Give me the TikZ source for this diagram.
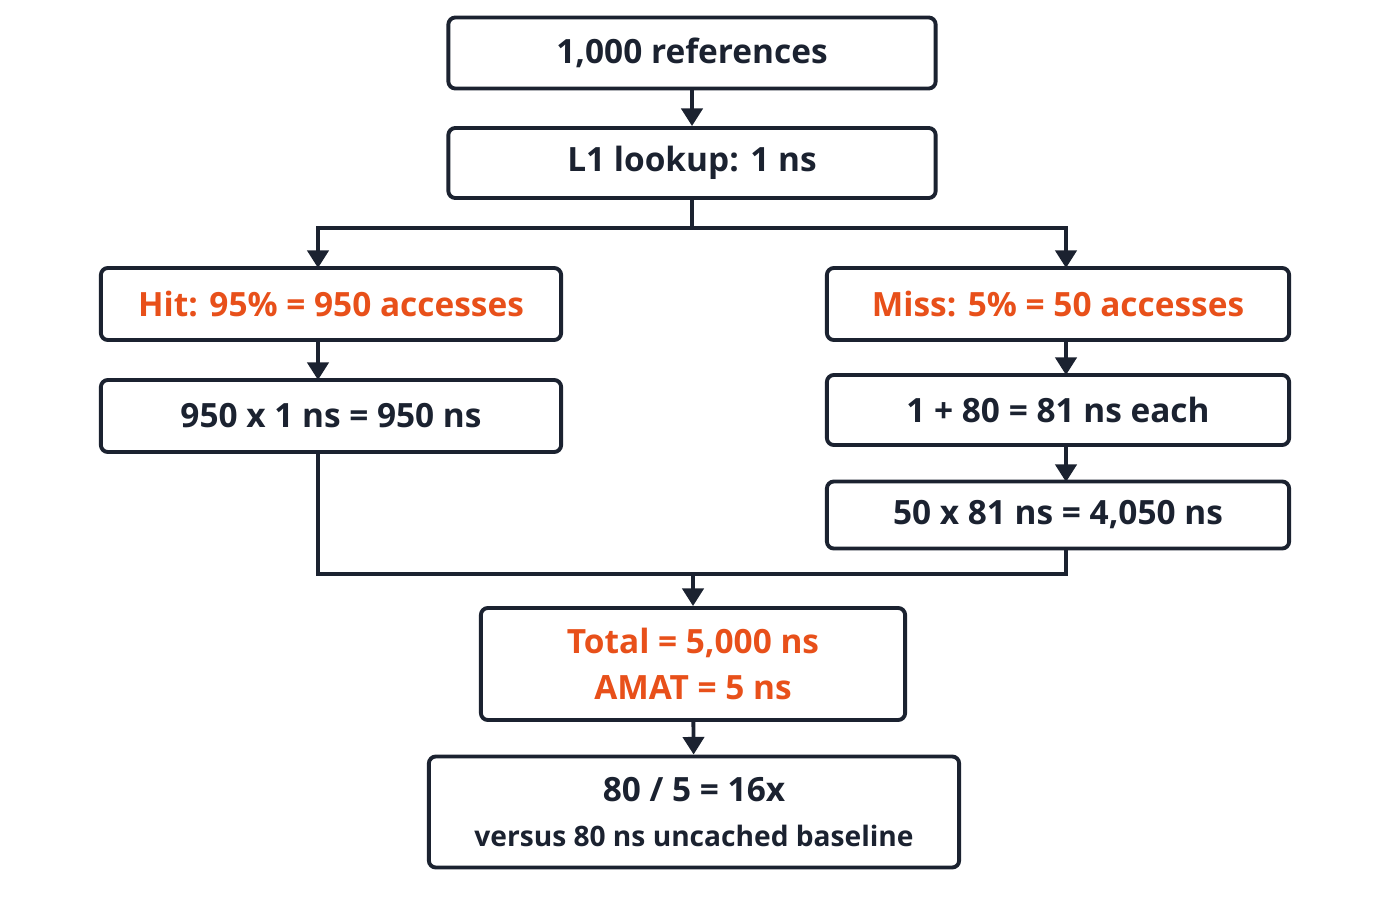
\documentclass[tikz,border=0pt]{standalone}
\usepackage{fontspec}
\setmainfont{Open Sans}
\usetikzlibrary{arrows.meta}
\definecolor{ink}{HTML}{1B2230}
\definecolor{hot}{HTML}{E8501A}
\begin{document}
\begin{tikzpicture}[x=0.01cm,y=-0.01cm,
 box/.style={draw=ink,line width=1.1pt,rounded corners=2pt,fill=white,inner sep=0pt,align=center,font=\bfseries\fontsize{9.5}{14}\selectfont,text=ink},
 ln/.style={draw=ink,line width=1.1pt},
 ar/.style={ln,-{Triangle[length=5pt,width=6pt]}}]
\useasboundingbox (0,0) rectangle (1400,900);
\node[box,minimum width=4.87cm,minimum height=0.71cm] (a) at (692,53) {1,000 references};
\node[box,minimum width=4.87cm,minimum height=0.70cm] (b) at (692,163) {L1 lookup: 1 ns};
\node[box,minimum width=4.60cm,minimum height=0.72cm,text=hot] (h1) at (331,304) {Hit: 95\% = 950 accesses};
\node[box,minimum width=4.60cm,minimum height=0.72cm] (h2) at (331,416) {950 x 1 ns = 950 ns};
\node[box,minimum width=4.62cm,minimum height=0.72cm,text=hot] (m1) at (1058,304) {Miss: 5\% = 50 accesses};
\node[box,minimum width=4.62cm,minimum height=0.70cm] (m2) at (1058,410) {1 + 80 = 81 ns each};
\node[box,minimum width=4.62cm,minimum height=0.67cm] (m3) at (1058,515) {50 x 81 ns = 4,050 ns};
\node[box,minimum width=4.24cm,minimum height=1.12cm,text=hot,font=\bfseries\fontsize{9.5}{13}\selectfont] (t) at (693,664) {Total = 5,000 ns\\AMAT = 5 ns};
\node[box,minimum width=5.30cm,minimum height=1.11cm] (f) at (694,812) {80 / 5 = 16x\\[-1pt]{\fontsize{8}{11}\selectfont versus 80 ns uncached baseline}};
\coordinate (s) at (692,228);
\coordinate (j) at (693,574);
\draw[ar] (a) -- (b);
\draw[ln] (b.south) -- (s);
\draw[ar] (s) -| (318,268);
\draw[ar] (s) -| (1066,268);
\draw[ar] (318,340) -- (318,380);
\draw[ar] (1066,340) -- (1066,375);
\draw[ar] (1066,445) -- (1066,482);
\draw[ln] (318,452) |- (j) -| (1066,549);
\draw[ar] (j) -- (t.north);
\draw[ar] (t) -- (f);
\end{tikzpicture}
\end{document}
